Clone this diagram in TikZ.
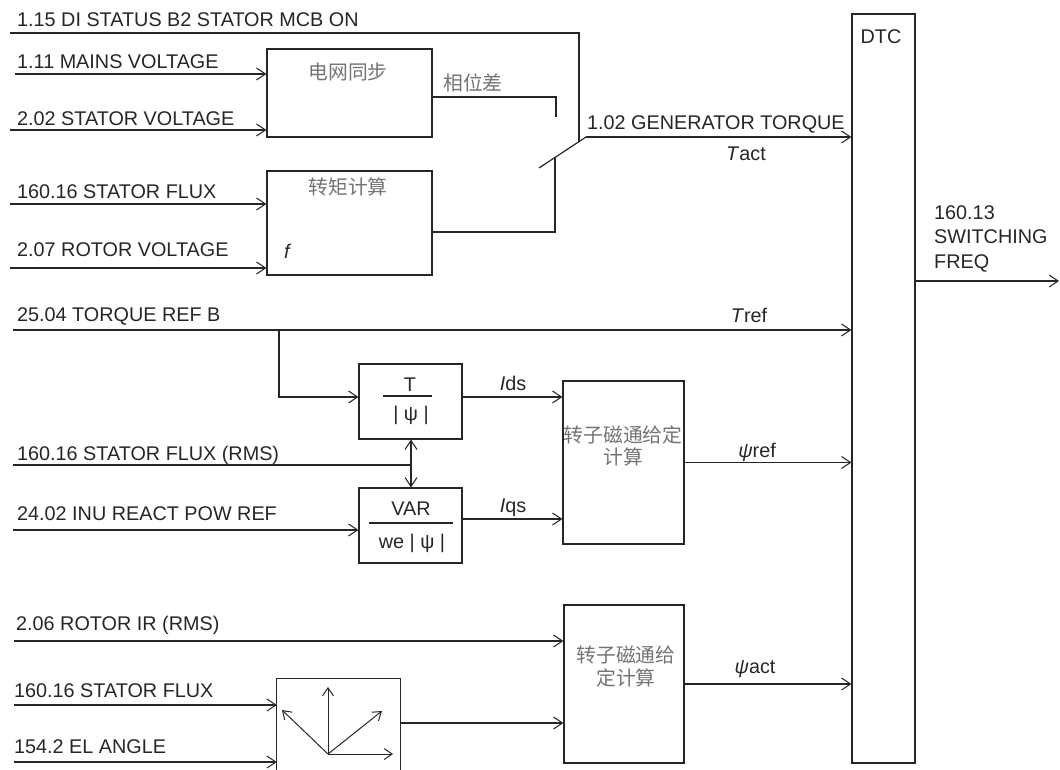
\documentclass[tikz,border=0pt]{standalone}
\usepackage{fontspec}
\setmainfont{Liberation Sans}
\newfontfamily\cjk{Noto Sans CJK SC}
\usetikzlibrary{arrows.meta}
\tikzset{
	blk/.style = {draw, line width=1.2pt, inner sep=0pt},
	wire/.style = {line width=1.2pt},
	sig/.style = {wire, -{Straight Barb[length=9pt,width=12pt,line width=1pt]}},
	vec/.style = {line width=1pt, -{Straight Barb[length=8pt,width=11pt,line width=1pt]}},
	lbl/.style = {anchor=base west, inner sep=0pt, font=\fontsize{19.8}{24}\selectfont},
	cn/.style = {inner sep=0pt, text=black!55, align=center, font=\cjk\fontsize{19.8}{22.5}\selectfont},
}
\begin{document}
\begin{tikzpicture}[x=1pt, y=-1pt, black!85]
	\useasboundingbox (0,0) rectangle (1060,769);
	% blocks
	\node[blk, minimum width=165pt, minimum height=88pt] (sync) at (349.5,93) {};
	\node[blk, minimum width=165pt, minimum height=104pt] (tcalc) at (349.5,223) {};
	\node[blk, minimum width=63pt, minimum height=749pt] (dtc) at (883.5,388.5) {};
	\node[blk, minimum width=103pt, minimum height=75pt] (tdiv) at (410.5,401.5) {};
	\node[blk, minimum width=103pt, minimum height=75pt] (var) at (410.5,525.5) {};
	\node[blk, minimum width=121pt, minimum height=163pt] (fref) at (623.5,462.5) {};
	\node[blk, minimum width=120pt, minimum height=158pt] (fact) at (624,684) {};
	\node[inner sep=0pt, minimum width=123pt, minimum height=96pt] (vec) at (338.5,727) {};
	\draw[wire] (vec.south west) -- (vec.north west) -- (vec.north east) -- (vec.south east);
	% block texts
	\node[cn] at (348,72) {电网同步};
	\node[cn] at (348,187) {转矩计算};
	\node[lbl] at (284,258) {\textit{f}};
	\node[lbl, anchor=base] at (881,43) {DTC};
	\node[lbl, anchor=base] at (410,391) {T};
	\draw[wire] (383,396) -- (432,396);
	\node[lbl, anchor=base] at (411,420) {| ψ |};
	\node[lbl, anchor=base] at (411,515) {VAR};
	\node[lbl, anchor=base] at (412,548) {we | ψ |};
	\draw[wire] (369,523) -- (453,523);
	\node[cn] at (623,446) {转子磁通给定\\计算};
	\node[cn] at (626,666.5) {转子磁通给\\定计算};
	\draw[vec] (328,754) -- (328,687);
	\draw[vec] (328,754) -- (282,710);
	\draw[vec] (328,754) -- (382,711);
	\draw[vec] (328,754) -- (393,754);
	% free ends and rows
	\coordinate (in0) at (10,33);
	\coordinate (in1) at (15,74);
	\coordinate (in2) at (10,130);
	\coordinate (in3) at (10,204);
	\coordinate (in4) at (10,268);
	\coordinate (in5) at (13,330);
	\coordinate (in6) at (13,465);
	\coordinate (in7) at (13,530);
	\coordinate (in8) at (14,641);
	\coordinate (in9) at (14,705);
	\coordinate (in10) at (14,762);
	\coordinate (ph) at (556,97);
	\coordinate (c1) at (556,117);
	\coordinate (tq) at (555,232);
	\coordinate (c2) at (555,158);
	\coordinate (swa) at (539,168);
	\coordinate (swb) at (586,137);
	\coordinate (sw0) at (579,142);
	\coordinate (br) at (279,330);
	\coordinate (r1) at (279,397);
	\coordinate (r2) at (0,519);
	\coordinate (r3) at (0,723);
	\coordinate (fx) at (411,465);
	\coordinate (out) at (1059,281);
	% connectors
	\draw[wire] (in0) -| (sw0);
	\draw[sig] (in1) -- (in1 -| sync.west);
	\draw[sig] (in2) -- (in2 -| sync.west);
	\draw[sig] (in3) -- (in3 -| tcalc.west);
	\draw[sig] (in4) -- (in4 -| tcalc.west);
	\draw[wire] (ph -| sync.east) -- (ph) -- (c1);
	\draw[wire] (tq -| tcalc.east) -- (tq) -- (c2);
	\draw[wire] (swa) -- (swb);
	\draw[sig] (swb) -- (swb -| dtc.west);
	\draw[sig] (in5) -- (in5 -| dtc.west);
	\draw[sig] (br) -- (r1) -- (r1 -| tdiv.west);
	\draw[sig] (r1 -| tdiv.east) -- (r1 -| fref.west);
	\draw[wire] (in6) -- (fx);
	\draw[sig] (fx) -- (fx |- tdiv.south);
	\draw[sig] (fx) -- (fx |- var.north);
	\draw[sig] (in7) -- (in7 -| var.west);
	\draw[sig] (r2 -| var.east) -- (r2 -| fref.west);
	\draw[sig] (fref.east) -- (fref.east -| dtc.west);
	\draw[sig] (in8) -- (in8 -| fact.west);
	\draw[sig] (in9) -- (in9 -| vec.west);
	\draw[sig] (in10) -- (in10 -| vec.west);
	\draw[sig] (r3 -| vec.east) -- (r3 -| fact.west);
	\draw[sig] (fact.east) -- (fact.east -| dtc.west);
	\draw[sig] (out -| dtc.east) -- (out);
	% signal labels
	\node[lbl] at (17,26) {1.15 DI STATUS B2 STATOR MCB ON};
	\node[lbl] at (17,68) {1.11 MAINS VOLTAGE};
	\node[lbl] at (17,125) {2.02 STATOR VOLTAGE};
	\node[lbl] at (17,198) {160.16 STATOR FLUX};
	\node[lbl] at (17,256) {2.07 ROTOR VOLTAGE};
	\node[cn] at (473,83) {相位差};
	\node[lbl] at (587,129) {1.02 GENERATOR TORQUE};
	\node[lbl, anchor=base] at (746,160) {\textit{T}act};
	\node[lbl, anchor=north west, align=left, font=\fontsize{19.8}{24.5}\selectfont] at (934,205) {160.13\\SWITCHING\\FREQ};
	\node[lbl] at (17,321) {25.04 TORQUE REF B};
	\node[lbl, anchor=base] at (749,322) {\textit{T}ref};
	\node[lbl, anchor=base] at (513,390) {\textit{I}ds};
	\node[lbl] at (17,460) {160.16 STATOR FLUX (RMS)};
	\node[lbl] at (17,520) {24.02 INU REACT POW REF};
	\node[lbl, anchor=base] at (513,512) {\textit{I}qs};
	\node[lbl, anchor=base] at (757,457) {\textit{ψ}ref};
	\node[lbl] at (16,630) {2.06 ROTOR IR (RMS)};
	\node[lbl, anchor=base] at (755,673) {\textit{ψ}act};
	\node[lbl] at (14,697) {160.16 STATOR FLUX};
	\node[lbl] at (14,753) {154.2 EL ANGLE};
\end{tikzpicture}
\end{document}
